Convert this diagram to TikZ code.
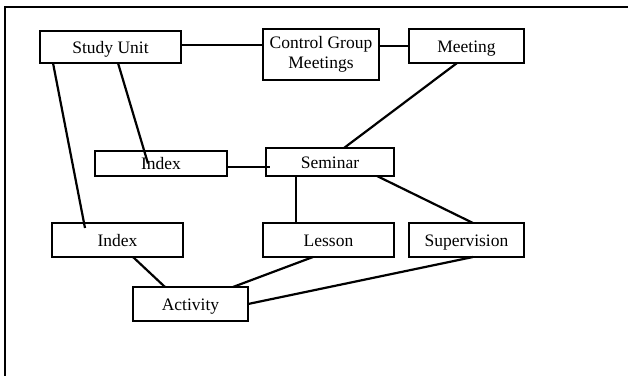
\documentclass[tikz,border=0pt]{standalone}
\usepackage{fontspec}
\setmainfont{Liberation Serif}
\usetikzlibrary{calc}
\begin{document}
\begin{tikzpicture}[x=1pt,y=1pt,
  box/.style={draw,line width=2.2pt,inner sep=0pt,outer sep=0pt,align=center,
    font=\fontsize{17.5}{20}\selectfont},
  one/.style={text height=12pt,text depth=0pt},
  link/.style={line width=2.2pt}]
\useasboundingbox (0,0) rectangle (628,376);
% frame
\draw[line width=2.2pt] (628,369) -- (5,369) -- (5,0);
% nodes
\node[box,one,minimum width=141pt,minimum height=32pt] (su) at (110.5,329) {Study Unit};
\node[box,minimum width=116pt,minimum height=51pt] (cgm) at (321,321.5) {Control Group\\Meetings};
\node[box,one,minimum width=115pt,minimum height=34pt] (meet) at (466.5,330) {Meeting};
\node[box,one,minimum width=132pt,minimum height=25pt] (idxa) at (161,212.5) {Index};
\node[box,one,minimum width=128pt,minimum height=28pt] (sem) at (330,214) {Seminar};
\node[box,one,minimum width=131pt,minimum height=34pt] (idxb) at (117.5,136) {Index};
\node[box,one,minimum width=131pt,minimum height=34pt] (les) at (328.5,136) {Lesson};
\node[box,one,minimum width=115pt,minimum height=34pt] (sup) at (466.5,136) {Supervision};
\node[box,one,minimum width=115pt,minimum height=34pt] (act) at (190.5,72) {Activity};
% connectors
\draw[link] ([yshift=2pt]su.east) -- ([yshift=2pt]su.east -| cgm.west);
\draw[link] (meet.west -| cgm.east) -- (meet.west);
\draw[link] ([xshift=-9.5pt]meet.south) -- ([xshift=14pt]sem.north);
\draw[link] ([xshift=7.5pt]su.south) -- ([xshift=-13pt]idxa.center);
\draw[link] ([xshift=-57.5pt]su.south) -- ([xshift=-32.5pt,yshift=-5pt]idxb.north);
\draw[link] ([yshift=-3.5pt]idxa.east) -- ($(idxa.east -| sem.west)+(4pt,-3.5pt)$);
\draw[link] ([xshift=-34pt]sem.south) -- ([xshift=-34pt]sem.south |- les.north);
\draw[link] ([xshift=-17pt]sem.south east) -- ([xshift=6.5pt]sup.north);
\draw[link] ([xshift=15.5pt]idxb.south) -- ([xshift=-25.5pt]act.north);
\draw[link] ([xshift=-15.5pt]les.south) -- ([xshift=42.5pt]act.north);
\draw[link] ([xshift=6.5pt]sup.south) -- (act.east);
\end{tikzpicture}
\end{document}
